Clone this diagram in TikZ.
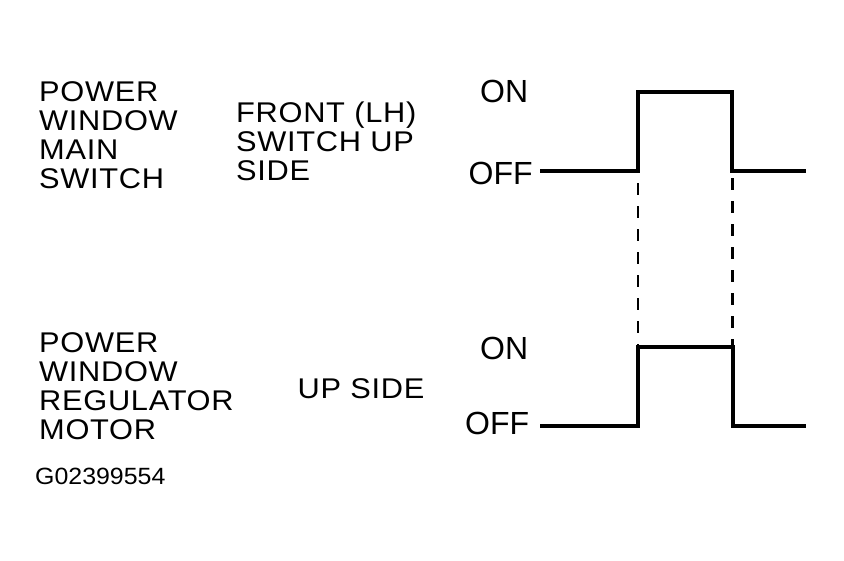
\documentclass[tikz,border=0pt]{standalone}
\usepackage{fontspec}
\setmainfont{Liberation Sans}
\newfontfamily\labelfont{Liberation Sans}[FakeStretch=1.08, LetterSpace=2.5]
\newfontfamily\codefont{Liberation Sans}[FakeStretch=1.06]
\tikzset{
	lbl/.style = {anchor=base west, inner sep=0pt, align=left,
		font=\labelfont\fontsize{28.5}{29}\selectfont},
	lvl/.style = {anchor=base west, inner sep=0pt,
		font=\fontsize{32}{34}\selectfont},
	wave/.style = {line width=3.5pt, line join=miter},
	guide/.style = {line width=2.5pt, dash pattern=on 12pt off 11pt},
}
\begin{document}
	\begin{tikzpicture}[x=1pt, y=-1pt]
	\useasboundingbox (0,0) rectangle (844,560);
	% labels (base = last line)
	\node (mainsw) at (39,188) [lbl] {POWER\\ WINDOW\\ MAIN\\ SWITCH};
	\node (frontsw) at (236,180) [lbl] {FRONT (LH)\\ SWITCH UP\\ SIDE};
	\node (motor) at (39,439) [lbl] {POWER\\ WINDOW\\ REGULATOR\\ MOTOR};
	\node (upside) at (297.5,398) [lbl] {UP SIDE};
	\node (code) at (35,484) [lbl, font=\codefont\fontsize{23.5}{25}\selectfont] {G02399554};
	\node (on1)  at (480,102) [lvl] {ON};
	\node (off1) at (468.5,184) [lvl] {OFF};
	\node (on2)  at (480,359) [lvl] {ON};
	\node (off2) at (465,434) [lvl] {OFF};
	% switch signal
	\coordinate (s1) at (540,171);
	\coordinate (a1) at (638,171);
	\coordinate (b1) at (732,171);
	\coordinate (e1) at (806,171);
	\draw[wave] (s1) -- (a1) -- (a1 |- 0,92) -- (b1 |- 0,92) -- (b1) -- (e1);
	% motor signal
	\coordinate (s2) at (540,426);
	\coordinate (a2) at (638,426);
	\coordinate (b2) at (733,426);
	\coordinate (e2) at (806,426);
	\draw[wave] (s2) -- (a2) -- (a2 |- 0,347) -- (b2 |- 0,347) -- (b2) -- (e2);
	% timing guides
	\draw[guide] (638,183) -- (a2 |- 0,345);
	\draw[guide] (732.5,178) -- (732.5,345);
	\end{tikzpicture}
\end{document}
